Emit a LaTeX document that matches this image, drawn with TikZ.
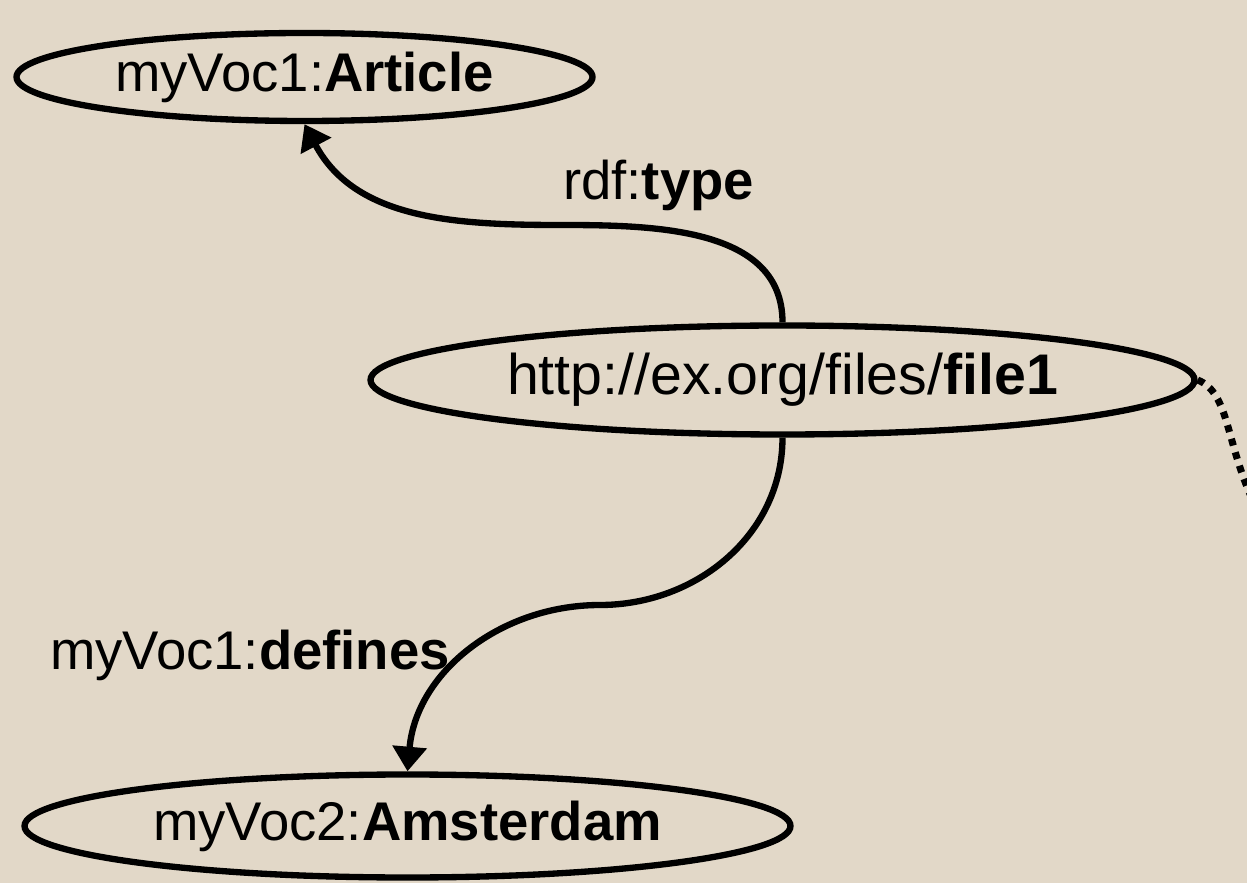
\documentclass[tikz,border=0pt]{standalone}
\usepackage{fontspec}
\setmainfont{Liberation Sans}
\usetikzlibrary{arrows.meta,shapes.geometric}
\definecolor{paper}{RGB}{226,216,200}

\begin{document}
\begin{tikzpicture}[->,>={Triangle[length=7pt,width=9.5pt]},line width=1.8pt,
                    res node/.style={ellipse,draw,inner sep=0pt,font=\fontsize{15.5}{18}\selectfont},
                    prop label/.style={anchor=base west,inner sep=0pt,font=\fontsize{15.5}{18}\selectfont}]

  \fill[paper,-] (0,0) rectangle (12.47,8.83);
  \useasboundingbox (0,0) rectangle (12.47,8.83);

  \node[res node,minimum width=5.76cm,minimum height=0.88cm] (art) at (3.045,8.06) {myVoc1:\textbf{Article}};
  \node[res node,minimum width=8.24cm,minimum height=1.09cm,font=\fontsize{16.3}{19}\selectfont] (file) at (7.825,5.03) {http://ex.org/files/\textbf{file1}};
  \node[res node,minimum width=7.66cm,minimum height=1.03cm] (ams) at (4.075,0.57) {myVoc2:\textbf{Amsterdam}};

  \coordinate (typebend) at (5.60,6.58);
  \coordinate (defbend) at (6.00,2.78);
  \coordinate (dotend) at (12.55,3.78);

  \draw (file.north) to[out=90,in=0] (typebend) to[out=180,in=-62] (art.south);
  \draw (file.south) to[out=-90,in=0] (defbend) to[out=180,in=85] (ams.north);
  \draw[-,line width=2pt,dash pattern=on 2pt off 2pt] (file.east) .. controls (12.30,4.90) and (12.25,4.40) .. (dotend);

  \node[prop label] (typelbl) at (5.60,6.83) {rdf:\textbf{type}};
  \node[prop label] (deflbl) at (0.47,2.14) {myVoc1:\textbf{defines}};
\end{tikzpicture}
\end{document}
